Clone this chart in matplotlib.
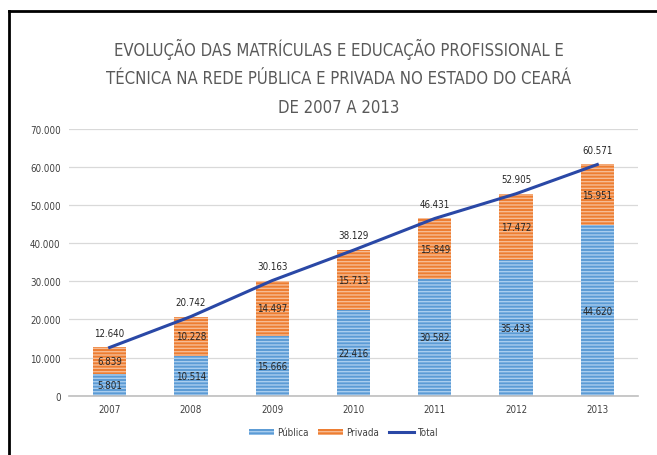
import matplotlib.pyplot as plt
from matplotlib.patches import Patch
from matplotlib.lines import Line2D
from matplotlib.ticker import FuncFormatter

plt.rcParams['font.family'] = ['DejaVu Sans']
plt.rcParams['font.stretch'] = 'condensed'

anos = ["2007", "2008", "2009", "2010", "2011", "2012", "2013"]
publica = [5801, 10514, 15666, 22416, 30582, 35433, 44620]
privada = [6839, 10228, 14497, 15713, 15849, 17472, 15951]
total = [12640, 20742, 30163, 38129, 46431, 52905, 60571]

def milhar(v):
    return f"{int(v):,}".replace(",", ".")

fig = plt.figure(figsize=(6.57, 4.56), dpi=100)
ax = fig.add_axes([0.105, 0.130, 0.866, 0.586])

x = range(len(anos))
azul = "#5b9bd5"
laranja = "#ed7d31"
plt.rcParams['hatch.linewidth'] = 1.0

b1 = ax.bar(x, publica, width=0.41, color=azul, edgecolor="#a9cdee",
            hatch="-----", linewidth=0, zorder=2)
b2 = ax.bar(x, privada, width=0.41, bottom=publica, color=laranja,
            edgecolor="#f6bb93", hatch="-----", linewidth=0, zorder=2)
ax.plot(x, total, color="#2a48a6", linewidth=2.2, zorder=3)

for i in x:
    ax.text(i, publica[i] / 2, milhar(publica[i]), ha="center", va="center",
            fontsize=7, color="#262626", zorder=4)
    ax.text(i, publica[i] + privada[i] / 2, milhar(privada[i]), ha="center",
            va="center", fontsize=7, color="#262626", zorder=4)
    ax.annotate(milhar(total[i]), (i, total[i]), xytext=(0, 7),
                textcoords="offset points", ha="center", va="bottom",
                fontsize=7, color="#262626")

ax.set_xlim(-0.5, 6.5)
ax.set_ylim(0, 70000)
ax.set_yticks(range(0, 70001, 10000))
ax.yaxis.set_major_formatter(FuncFormatter(lambda v, p: milhar(v)))
ax.set_xticks(list(x))
ax.set_xticklabels(anos)
ax.tick_params(length=0, labelsize=7, colors="#404040", pad=6)
ax.grid(axis="y", color="#d9d9d9", linewidth=0.9, zorder=0)
ax.set_axisbelow(True)
for s in ["top", "right", "left"]:
    ax.spines[s].set_visible(False)
ax.spines["bottom"].set_color("#bfbfbf")
ax.spines["bottom"].set_linewidth(1.2)

fig.text(0.516, 0.83, "EVOLUÇÃO DAS MATRÍCULAS E EDUCAÇÃO PROFISSIONAL E\n"
         "TÉCNICA NA REDE PÚBLICA E PRIVADA NO ESTADO DO CEARÁ\n"
         "DE 2007 A 2013", ha="center", va="center", fontsize=12,
         color="#595959", linespacing=1.75)

handles = [Patch(facecolor=azul, edgecolor="#a9cdee", hatch="-----", linewidth=0),
           Patch(facecolor=laranja, edgecolor="#f6bb93", hatch="-----", linewidth=0),
           Line2D([], [], color="#2a48a6", linewidth=2.2)]
fig.legend(handles, ["Pública", "Privada", "Total"], loc="center",
           bbox_to_anchor=(0.522, 0.05), ncol=3, frameon=False, fontsize=7,
           handlelength=2.6, handleheight=0.6, columnspacing=1.0,
           handletextpad=0.3, labelcolor="#404040")

# moldura
fig.add_artist(Line2D([0.013, 1.0], [0.974, 0.974], color="black", linewidth=2))
fig.add_artist(Line2D([0.014, 0.014], [0.0, 0.974], color="black", linewidth=2))

fig.savefig("out.png", dpi=100)
